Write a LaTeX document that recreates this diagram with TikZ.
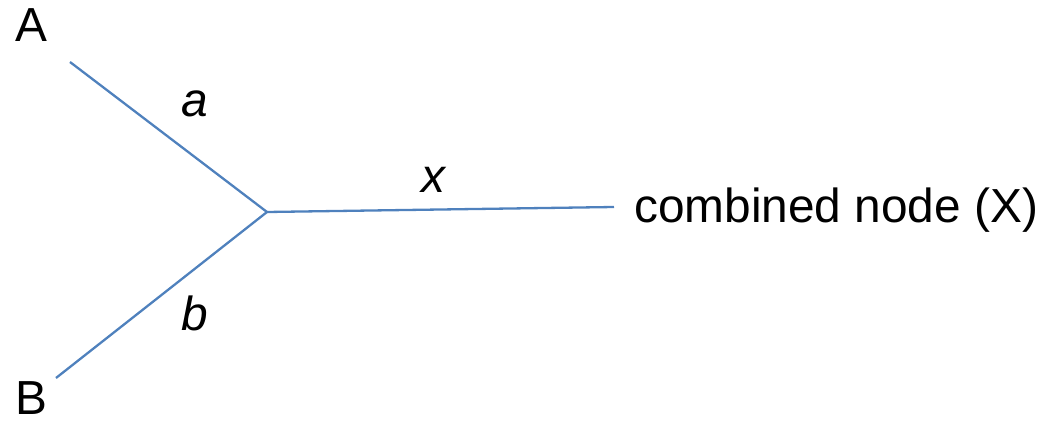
\documentclass[tikz,border=0pt]{standalone}
\usepackage{fontspec}
\setmainfont{Liberation Sans}
\begin{document}
\begin{tikzpicture}[x=1pt,y=-1pt,
  lbl/.style={inner sep=0pt,anchor=base west,font=\fontsize{47.8}{56}\selectfont},
  ilbl/.style={lbl,font=\fontsize{47.8}{56}\selectfont\itshape},
  edge/.style={draw={rgb,255:red,79;green,129;blue,189},line width=2.3pt}]
\useasboundingbox (0,0) rectangle (1039,422);
\node[lbl] (A) at (15,42) {A};
\node[lbl] (B) at (15,414) {B};
\node[lbl] (X) at (634,223) {combined node (X)};
\coordinate (ea) at (70,62);
\coordinate (eb) at (56,378);
\coordinate (j) at (267,212);
\coordinate (ex) at (614,207);
\draw[edge] (ea) -- (j);
\draw[edge] (eb) -- (j);
\draw[edge] (j) -- (ex);
\node[ilbl] (la) at (181,117) {a};
\node[ilbl] (lb) at (181,330) {b};
\node[ilbl] (lx) at (421,193) {x};
\end{tikzpicture}
\end{document}
